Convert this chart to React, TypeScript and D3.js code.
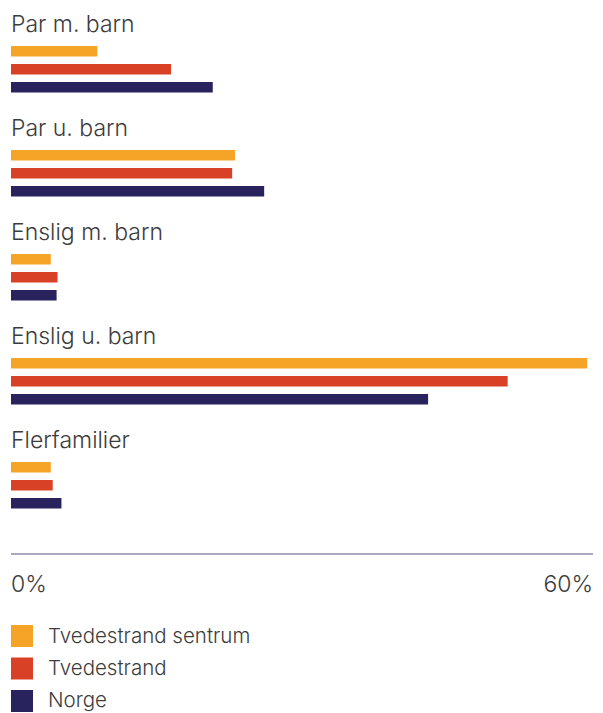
import React from "react";
import * as d3 from "d3";

const categories = ["Par m. barn", "Par u. barn", "Enslig m. barn", "Enslig u. barn", "Flerfamilier"];
const seriesNames = ["Tvedestrand sentrum", "Tvedestrand", "Norge"];
const sentrum = [8.9, 23.1, 4.1, 59.4, 4.1];
const tvedestrand = [16.5, 22.8, 4.8, 51.2, 4.3];
const norge = [20.8, 26.1, 4.7, 43.0, 5.2];
const colors = ["#F5A428", "#D94126", "#28235C"];
const tickValues = [0, 60];

export default function App() {
  const W = 603, H = 713;
  const x = d3.scaleLinear().domain([0, 60]).range([11, 593]);
  const y = d3.scaleBand().domain(categories).range([0, 520]).padding(0);
  const values = [sentrum, tvedestrand, norge];
  const font = "Inter, 'Open Sans', sans-serif";
  const txt = "#3c3c3c";
  return (
    <svg width={W} height={H} style={{ position: "absolute", left: 0, top: 0 }}>
      {categories.map((c, i) => {
        const y0 = (y(c) as number);
        return (
          <g key={c}>
            <text x={11} y={y0 + 32} fontSize={23} fontWeight={300} fill={txt} fontFamily={font}>{c}</text>
            {values.map((s, j) => (
              <rect key={j} x={x(0)} y={y0 + 46 + j * 18} width={x(s[i]) - x(0)} height={10.5} fill={colors[j]} />
            ))}
          </g>
        );
      })}
      <line x1={11} x2={593} y1={554} y2={554} stroke="#8F8BAE" strokeWidth={1.5} />
      {tickValues.map((t, i) => (
        <text key={t} x={x(t)} y={592} fontSize={23} fontWeight={300} fill={txt} fontFamily={font}
          textAnchor={i === 0 ? "start" : "end"}>{`${t}%`}</text>
      ))}
      {seriesNames.map((n, j) => (
        <g key={n}>
          <rect x={11} y={625 + j * 32.5} width={22} height={22} fill={colors[j]} />
          <text x={48} y={643 + j * 32} fontSize={20.5} fontWeight={300} fill={txt} fontFamily={font}>{n}</text>
        </g>
      ))}
    </svg>
  );
}
